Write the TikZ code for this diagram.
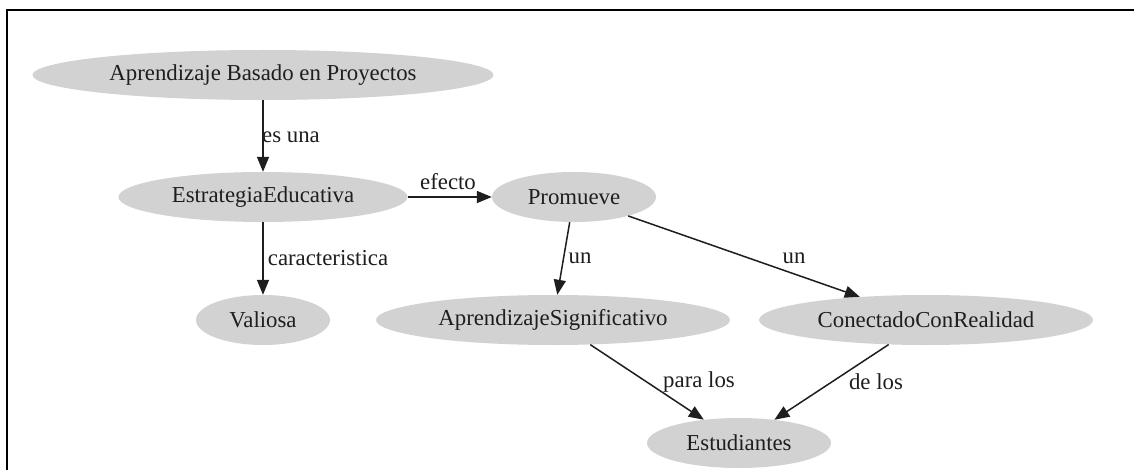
\documentclass[tikz,border=0pt]{standalone}
\usepackage{fontspec}
\setmainfont{Liberation Serif}
\usetikzlibrary{shapes.geometric,arrows.meta}
\definecolor{nodefill}{RGB}{210,210,210}
\definecolor{inkc}{RGB}{30,30,30}
\tikzset{
  concept/.style={ellipse, fill=nodefill, draw=none, inner sep=0pt, text=inkc,
    font=\fontsize{22.8}{27}\selectfont},
  edge/.style={draw=inkc, line width=1.5pt, -{Triangle[length=15pt,width=12pt]}},
  lbl/.style={inner sep=0pt, text=inkc, font=\fontsize{22.8}{27}\selectfont},
  frameline/.style={draw=black, line width=2.3pt}
}
\begin{document}
\begin{tikzpicture}[x=1pt,y=-1pt]
\useasboundingbox (0,0) rectangle (1134,470);
\fill[white] (0,0) rectangle (1134,470);
\coordinate (fbl) at (7,472);
\coordinate (ftl) at (7,10);
\coordinate (ftr) at (1136,10);
\draw[frameline] (fbl) -- (ftl) -- (ftr);

\node[concept, minimum width=461pt, minimum height=50pt] (abp) at (263,75) {Aprendizaje Basado en Proyectos};
\node[concept, minimum width=289pt, minimum height=50pt] (est) at (263,197) {EstrategiaEducativa};
\node[concept, minimum width=164pt, minimum height=50pt] (pro) at (574,197) {Promueve};
\node[concept, minimum width=134pt, minimum height=50pt] (val) at (263,320) {Valiosa};
\node[concept, minimum width=354pt, minimum height=50pt] (aps) at (553,320) {AprendizajeSignificativo};
\node[concept, minimum width=334pt, minimum height=50pt] (ccr) at (926,320) {ConectadoConRealidad};
\node[concept, minimum width=184pt, minimum height=50pt] (estu) at (739,443) {Estudiantes};

\draw[edge] (abp) -- (est);
\draw[edge] (est) -- (pro);
\draw[edge] (est) -- (val);
\draw[edge] (pro) -- (aps);
\draw[edge] (pro) -- (ccr);
\draw[edge] (aps) -- (estu);
\draw[edge] (ccr) -- (estu);

\node[lbl] (l1) at (291,137) {es una};
\node[lbl] (l2) at (448,182) {efecto};
\node[lbl] (l3) at (328,258) {caracteristica};
\node[lbl] (l4) at (580,258) {un};
\node[lbl] (l5) at (794,258) {un};
\node[lbl] (l6) at (699,382) {para los};
\node[lbl] (l7) at (876,382) {de los};
\end{tikzpicture}
\end{document}
